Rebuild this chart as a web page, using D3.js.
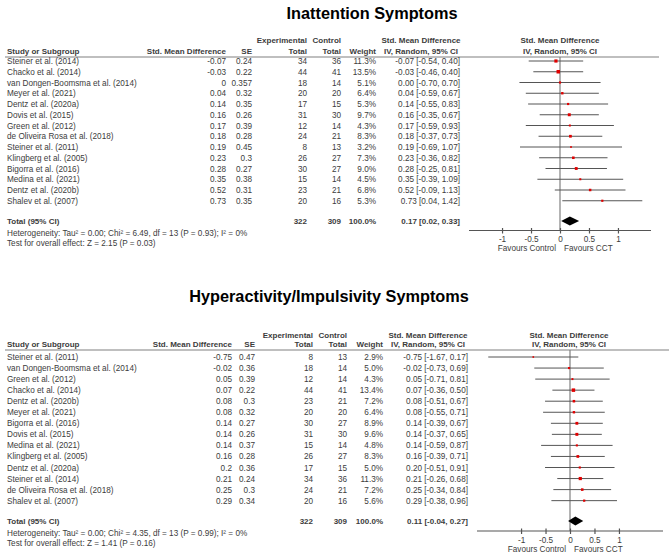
<!DOCTYPE html>
<html><head><meta charset="utf-8">
<script src="https://cdn.jsdelivr.net/npm/d3@7"></script>
<style>
html,body{margin:0;padding:0;background:#fff;}
svg{display:block;font-family:"Liberation Sans",Arial,sans-serif;}
</style></head>
<body>
<svg id="chart" width="672" height="554"></svg>
<script>
// ---------- Panel 1: Inattention ----------
const title1 = "Inattention Symptoms";
const studies1 = ["Steiner et al. (2014)","Chacko et al. (2014)","van Dongen-Boomsma et al. (2014)","Meyer et al. (2021)","Dentz et al. (2020a)","Dovis et al. (2015)","Green et al. (2012)","de Oliveira Rosa et al. (2018)","Steiner et al. (2011)","Klingberg et al. (2005)","Bigorra et al. (2016)","Medina et al. (2021)","Dentz et al. (2020b)","Shalev et al. (2007)"];
const smd1 = [-0.07,-0.03,0,0.04,0.14,0.16,0.17,0.18,0.19,0.23,0.28,0.35,0.52,0.73];
const se1 = [0.24,0.22,0.357,0.32,0.35,0.26,0.39,0.28,0.45,0.3,0.27,0.38,0.31,0.35];
const expN1 = [34,44,18,20,17,31,12,24,8,26,30,15,23,20];
const ctrlN1 = [36,41,14,20,15,30,14,21,13,27,27,14,21,16];
const weight1 = [11.3,13.5,5.1,6.4,5.3,9.7,4.3,8.3,3.2,7.3,9.0,4.5,6.8,5.3];
const ciLow1 = [-0.54,-0.46,-0.70,-0.59,-0.55,-0.35,-0.59,-0.37,-0.69,-0.36,-0.25,-0.39,-0.09,0.04];
const ciHigh1 = [0.40,0.40,0.70,0.67,0.83,0.67,0.93,0.73,1.07,0.82,0.81,1.09,1.13,1.42];
const total1 = {exp:322, ctrl:309, weight:100.0, est:0.17, lo:0.02, hi:0.33};
const het1 = "Heterogeneity: Tau\u00B2 = 0.00; Chi\u00B2 = 6.49, df = 13 (P = 0.93); I\u00B2 = 0%";
const test1 = "Test for overall effect: Z = 2.15 (P = 0.03)";

// ---------- Panel 2: Hyperactivity/Impulsivity ----------
const title2 = "Hyperactivity/Impulsivity Symptoms";
const studies2 = ["Steiner et al. (2011)","van Dongen-Boomsma et al. (2014)","Green et al. (2012)","Chacko et al. (2014)","Dentz et al. (2020b)","Meyer et al. (2021)","Bigorra et al. (2016)","Dovis et al. (2015)","Medina et al. (2021)","Klingberg et al. (2005)","Dentz et al. (2020a)","Steiner et al. (2014)","de Oliveira Rosa et al. (2018)","Shalev et al. (2007)"];
const smd2 = [-0.75,-0.02,0.05,0.07,0.08,0.08,0.14,0.14,0.14,0.16,0.2,0.21,0.25,0.29];
const se2 = [0.47,0.36,0.39,0.22,0.3,0.32,0.27,0.26,0.37,0.28,0.36,0.24,0.3,0.34];
const expN2 = [8,18,12,44,23,20,30,31,15,26,17,34,24,20];
const ctrlN2 = [13,14,14,41,21,20,27,30,14,27,15,36,21,16];
const weight2 = [2.9,5.0,4.3,13.4,7.2,6.4,8.9,9.6,4.8,8.3,5.0,11.3,7.2,5.6];
const ciLow2 = [-1.67,-0.73,-0.71,-0.36,-0.51,-0.55,-0.39,-0.37,-0.59,-0.39,-0.51,-0.26,-0.34,-0.38];
const ciHigh2 = [0.17,0.69,0.81,0.50,0.67,0.71,0.67,0.65,0.87,0.71,0.91,0.68,0.84,0.96];
const total2 = {exp:322, ctrl:309, weight:100.0, est:0.11, lo:-0.04, hi:0.27};
const het2 = "Heterogeneity: Tau\u00B2 = 0.00; Chi\u00B2 = 4.35, df = 13 (P = 0.99); I\u00B2 = 0%";
const test2 = "Test for overall effect: Z = 1.41 (P = 0.16)";

const axisTicks = [-1,-0.5,0,0.5,1];
const favLeft = "Favours Control", favRight = "Favours CCT";

const svg = d3.select("#chart");
const FS = 8.2, FSB = 8;
const TXT = "#3c3c3c";

function panel(d, L){
  const g = svg.append("g");
  const x = d3.scaleLinear().domain(L.dom).range(L.rng);
  const rowY = i => L.row0 + i*L.step;
  const t = (xx,yy,s,anchor,opts={}) => g.append("text").attr("x",xx).attr("y",yy)
      .attr("text-anchor",anchor||"start").attr("font-size",opts.fs||(opts.bold?FSB:FS))
      .attr("font-weight",opts.bold?"bold":"normal").attr("fill",opts.fill||TXT).text(s);

  // title
  t(L.titleX, L.titleY, d.title, "middle", {fs:16.3, bold:true, fill:"#000"});
  // headers
  t(L.c.exp, L.h1, "Experimental", "end", {bold:true});
  t(L.c.ctrl, L.h1, "Control", "end", {bold:true});
  t(L.c.ciC, L.h1, "Std. Mean Difference", "middle", {bold:true});
  t(L.fC, L.h1, "Std. Mean Difference", "middle", {bold:true});
  t(L.c.study, L.h2, "Study or Subgroup", "start", {bold:true});
  t(L.c.smd, L.h2, "Std. Mean Difference", "end", {bold:true});
  t(L.c.se, L.h2, "SE", "end", {bold:true});
  t(L.c.exp, L.h2, "Total", "end", {bold:true});
  t(L.c.ctrl, L.h2, "Total", "end", {bold:true});
  t(L.c.wt, L.h2, "Weight", "end", {bold:true});
  t(L.c.ciC, L.h2, "IV, Random, 95% CI", "middle", {bold:true});
  t(L.fC, L.h2, "IV, Random, 95% CI", "middle", {bold:true});
  g.append("line").attr("x1",L.lineX[0]).attr("x2",L.lineX[1]).attr("y1",L.hl).attr("y2",L.hl)
    .attr("stroke","#808080").attr("stroke-width",1.2);

  // zero line
  g.append("line").attr("x1",x(0)).attr("x2",x(0)).attr("y1",L.hl).attr("y2",L.axisY)
    .attr("stroke","#808080").attr("stroke-width",1.2);

  // rows
  d.studies.forEach((s,i)=>{
    const y = rowY(i);
    t(L.c.study, y, s, "start");
    t(L.c.smd, y, String(d.smd[i]), "end");
    t(L.c.se, y, String(d.se[i]), "end");
    t(L.c.exp, y, String(d.exp[i]), "end");
    t(L.c.ctrl, y, String(d.ctrl[i]), "end");
    t(L.c.wt, y, d.wt[i].toFixed(1)+"%", "end");
    t(L.c.ci, y, d.smd[i].toFixed(2)+" ["+d.lo[i].toFixed(2)+", "+d.hi[i].toFixed(2)+"]", "end");
    const cy = y - 3;
    g.append("line").attr("x1",x(d.lo[i])).attr("x2",x(d.hi[i])).attr("y1",cy).attr("y2",cy)
      .attr("stroke","#555").attr("stroke-width",1);
    const side = 0.95*Math.sqrt(d.wt[i]);
    g.append("rect").attr("x",x(d.smd[i])-side/2).attr("y",cy-side/2).attr("width",side).attr("height",side)
      .attr("fill","#e00000");
  });

  // total
  const ty = L.totY;
  t(L.c.study, ty, "Total (95% CI)", "start", {bold:true});
  t(L.c.exp, ty, String(d.total.exp), "end", {bold:true});
  t(L.c.ctrl, ty, String(d.total.ctrl), "end", {bold:true});
  t(L.c.wt, ty, d.total.weight.toFixed(1)+"%", "end", {bold:true});
  t(L.c.ci, ty, d.total.est.toFixed(2)+" ["+d.total.lo.toFixed(2)+", "+d.total.hi.toFixed(2)+"]", "end", {bold:true});
  const dy = ty - 3, dh = 4.5;
  g.append("path").attr("d", `M${x(d.total.lo)},${dy} L${x(d.total.est)},${dy-dh} L${x(d.total.hi)},${dy} L${x(d.total.est)},${dy+dh} Z`)
    .attr("fill","#000");
  t(L.c.study, L.hetY, d.het, "start");
  t(L.c.study, L.testY, d.test, "start");

  // axis
  const ax = g.append("g").attr("transform",`translate(0,${L.axisY})`)
    .call(d3.axisBottom(x).tickValues(axisTicks).tickSize(4).tickFormat(v => String(v)));
  ax.select(".domain").attr("d",`M${L.rng[0]},0H${L.rng[1]}`).attr("stroke","#555").attr("stroke-width",1.2);
  ax.selectAll(".tick line").attr("y1",-2.5).attr("y2",3).attr("stroke","#555").attr("stroke-width",1.2);
  ax.selectAll(".tick text").attr("font-size",FS).attr("fill",TXT).attr("dy",0).attr("y",L.tickLabY - L.axisY)
    .attr("font-family","Liberation Sans, Arial, sans-serif");
  t(x(0)-4, L.favY, favLeft, "end");
  t(x(0)+4, L.favY, favRight, "start");
}

panel({title:title1, studies:studies1, smd:smd1, se:se1, exp:expN1, ctrl:ctrlN1, wt:weight1, lo:ciLow1, hi:ciHigh1, total:total1, het:het1, test:test1},
  {titleX:372, titleY:19, h1:42.5, h2:53.5, hl:57, row0:64, step:10.75, totY:224, hetY:235.5, testY:246,
   axisY:230.5, tickLabY:241.5, favY:251, dom:[-1.57,1.57], rng:[469,651], fC:560, lineX:[5,659],
   c:{study:7, smd:226, se:252, exp:307, ctrl:341, wt:376, ci:460, ciC:421}});

panel({title:title2, studies:studies2, smd:smd2, se:se2, exp:expN2, ctrl:ctrlN2, wt:weight2, lo:ciLow2, hi:ciHigh2, total:total2, het:het2, test:test2},
  {titleX:329, titleY:302, h1:338, h2:347, hl:350, row0:360, step:11.05, totY:524, hetY:535.5, testY:546,
   axisY:531, tickLabY:542.5, favY:551.5, dom:[-1.9,1.9], rng:[477,663], fC:569, lineX:[5,669],
   c:{study:7, smd:232, se:255, exp:313, ctrl:347, wt:383, ci:468, ciC:428}});
</script>
</body></html>
